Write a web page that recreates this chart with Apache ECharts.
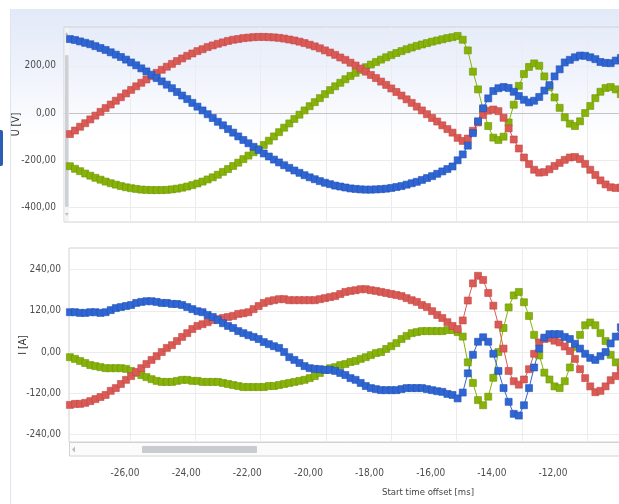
<!DOCTYPE html>
<html>
<head>
<meta charset="utf-8">
<script src="https://cdn.jsdelivr.net/npm/echarts@6/dist/echarts.min.js"></script>
<style>
  html, body { margin: 0; padding: 0; background: #ffffff; }
  #chart { width: 619px; height: 504px; }
</style>
</head>
<body>
<div id="chart"></div>
<script>
// Sample clock of the recorder: first sample time and sampling step, in ms
const T0 = -27.84;
const DT = 0.15625;

// Phase voltages [V], one value per sample
const uRed = [
  -89,-74,-58,-43,-27,-11,5,21,36,52,
  67,83,98,113,128,142,156,170,183,196,
  208,220,231,242,252,262,270,279,286,293,
  299,305,310,313,317,319,321,322,322,321,
  320,318,315,311,307,302,296,289,282,274,
  265,256,246,235,225,213,201,188,175,161,
  148,133,119,104,89,74,58,43,27,11,
  -5,-21,-36,-52,-68,-83,-105,-118,-108,-75,
  -40,-8,10,15,8,-20,-65,-112,-150,-188,
  -216,-240,-252,-250,-238,-224,-211,-198,-188,-186,
  -195,-215,-240,-262,-285,-302,-314,-317,-315
];
const uGreen = [
  -225,-236,-246,-256,-265,-274,-282,-290,-297,-303,
  -309,-314,-318,-321,-324,-325,-326,-326,-326,-325,
  -323,-320,-316,-311,-305,-298,-290,-281,-272,-261,
  -249,-237,-224,-210,-195,-180,-166,-152,-135,-117,
  -99,-81,-62,-44,-25,-7,11,29,46,63,
  80,97,113,128,143,157,170,182,194,205,
  216,226,236,245,254,262,270,277,284,290,
  296,302,307,312,317,321,326,310,265,175,
  100,15,-55,-104,-114,-100,-40,35,115,165,
  195,210,200,155,110,66,22,-18,-45,-55,
  -35,0,30,63,90,106,110,100,80
];
const uBlue = [
  313,309,303,297,291,283,275,267,257,247,
  237,226,214,202,189,176,162,148,134,120,
  105,89,74,59,43,27,11,-5,-21,-37,
  -52,-68,-83,-99,-114,-128,-143,-157,-171,-184,
  -197,-209,-221,-232,-243,-253,-263,-272,-280,-288,
  -295,-301,-307,-311,-315,-319,-321,-323,-324,-324,
  -323,-322,-320,-317,-313,-309,-303,-297,-291,-283,
  -275,-267,-257,-247,-237,-226,-200,-175,-138,-85,
  -35,20,62,93,105,110,106,90,72,56,
  45,52,68,95,118,155,185,214,225,236,
  243,242,236,228,216,212,211,222,233
];

// Phase currents [A], one value per sample
const iRed = [
  -154,-151,-151,-148,-143,-137,-131,-125,-113,-105,
  -93,-81,-70,-58,-47,-35,-23,-12,0,12,
  20,32,44,55,67,76,81,87,93,96,
  99,102,105,111,113,116,125,134,143,148,
  151,154,154,151,151,151,151,151,151,154,
  157,160,163,169,175,178,180,183,183,180,
  178,175,172,169,166,163,157,151,146,137,
  131,119,108,99,87,76,67,92,150,200,
  222,210,172,135,80,10,-55,-85,-95,-80,
  -50,-5,28,38,40,33,28,16,3,-20,
  -50,-76,-100,-117,-113,-100,-82,-70,-52
];
const iGreen = [
  -15,-20,-26,-32,-38,-41,-44,-47,-47,-47,
  -47,-49,-55,-61,-67,-73,-79,-84,-87,-87,
  -87,-84,-81,-81,-84,-84,-87,-87,-87,-87,
  -90,-93,-96,-99,-102,-102,-102,-102,-102,-99,
  -99,-96,-93,-90,-87,-84,-81,-76,-70,-61,
  -52,-47,-44,-38,-35,-29,-26,-20,-15,-9,
  -3,0,9,17,26,38,47,55,58,61,
  61,61,61,61,64,64,58,45,-30,-90,
  -140,-155,-130,-75,0,70,130,165,175,145,
  105,50,-10,-60,-80,-100,-105,-85,-45,15,
  50,78,86,78,55,32,-8,-30,-45
];
const iBlue = [
  116,116,114,114,116,116,114,116,122,128,
  131,134,137,143,146,148,148,146,143,143,
  140,140,137,131,125,119,116,108,102,93,
  84,76,70,61,55,49,44,38,29,23,
  17,12,0,-15,-23,-32,-41,-47,-49,-50,
  -52,-52,-55,-61,-67,-76,-81,-90,-99,-105,
  -108,-111,-111,-111,-111,-108,-105,-105,-105,-105,
  -108,-111,-114,-116,-122,-125,-135,-118,-62,-8,
  30,43,30,-5,-55,-105,-145,-180,-185,-155,
  -105,-45,10,42,52,52,52,44,38,24,
  10,-5,-17,-23,-12,0,25,45,72
];

// Tick values
const timeGridTicks = [-26, -24, -22, -20, -18, -16, -14, -12];
const timeLabelTicks = [-26, -24, -22, -20, -18, -16, -14, -12];
const uTicks = [-400, -200, 0, 200];
const iTicks = [-240, -120, 0, 120, 240];

const FONT = "'Liberation Sans Narrow', 'DejaVu Sans Condensed', 'Liberation Sans', sans-serif";
const LABEL_COLOR = '#4d4d4d';
const GRID_LINE = '#ececec';
const fmt = v => v.toFixed(2).replace('.', ',');

const COLORS = {
  red:   { fill: '#da5a56', edge: '#c24844' },
  green: { fill: '#86b20a', edge: '#6f9700' },
  blue:  { fill: '#2f66d4', edge: '#2253b4' }
};

function trace(name, values, col, axis) {
  return {
    type: 'line',
    name: name,
    xAxisIndex: axis,
    yAxisIndex: axis,
    data: values.map((v, k) => [T0 + k * DT, v]),
    symbol: 'rect',
    symbolSize: 7,
    showSymbol: true,
    showAllSymbol: true,
    clip: true,
    silent: true,
    lineStyle: { width: 1, color: col.fill },
    itemStyle: { color: col.fill, borderColor: col.edge, borderWidth: 0.6 },
    emphasis: { disabled: true }
  };
}

function timeAxis(gridIndex, min, max, zeroLine) {
  return {
    type: 'value',
    gridIndex: gridIndex,
    min: min,
    max: max,
    axisLine: zeroLine
      ? { show: true, onZero: true, lineStyle: { color: '#c4c4c4', width: 1 } }
      : { show: false, onZero: false },
    axisTick: { show: false, customValues: timeGridTicks },
    axisLabel: { show: false, customValues: timeGridTicks },
    splitLine: { show: true, lineStyle: { color: GRID_LINE, width: 1 } }
  };
}

function valueAxis(gridIndex, min, max, ticks, name, gap) {
  return {
    type: 'value',
    gridIndex: gridIndex,
    min: min,
    max: max,
    name: name,
    nameLocation: 'middle',
    nameGap: gap,
    nameRotate: 90,
    nameMoveOverlap: false,
    nameTextStyle: { color: '#333333', fontSize: 10.5, fontFamily: FONT },
    axisLine: { show: false },
    axisTick: { show: false, customValues: ticks },
    axisLabel: {
      customValues: ticks,
      formatter: fmt,
      color: LABEL_COLOR,
      fontSize: 10,
      fontFamily: FONT,
      margin: 8
    },
    splitLine: { show: true, lineStyle: { color: GRID_LINE, width: 1 } }
  };
}

const chart = echarts.init(document.getElementById('chart'), null, { renderer: 'canvas' });

chart.setOption({
  animation: false,
  backgroundColor: '#ffffff',
  grid: [
    { left: 64, top: 27, right: -10, height: 195, show: true, borderColor: '#d2d2d2', borderWidth: 1, backgroundColor: 'transparent', outerBoundsMode: 'none' },
    { left: 69, top: 248, right: -10, height: 194, show: true, borderColor: '#d2d2d2', borderWidth: 1, backgroundColor: 'transparent', outerBoundsMode: 'none' },
    { left: 67, top: 456, right: 0, height: 1, show: false, outerBoundsMode: 'none' }
  ],
  xAxis: [
    timeAxis(0, -28.021, -10.716, true),
    timeAxis(1, -27.868, -10.716, false),
    {
      type: 'value',
      gridIndex: 2,
      min: -27.897,
      max: -9.841,
      position: 'bottom',
      axisLine: { show: false },
      axisTick: { show: false, customValues: timeLabelTicks },
      axisLabel: {
        customValues: timeLabelTicks,
        formatter: fmt,
        color: LABEL_COLOR,
        fontSize: 10,
        fontFamily: FONT,
        margin: 11
      },
      splitLine: { show: false }
    }
  ],
  yAxis: [
    valueAxis(0, -461, 364, uTicks, 'U [V]', 42),
    valueAxis(1, -262, 303, iTicks, 'I [A]', 40),
    { type: 'value', gridIndex: 2, min: 0, max: 1, show: false }
  ],
  series: [
    trace('U L2', uGreen, COLORS.green, 0),
    trace('U L1', uRed, COLORS.red, 0),
    trace('U L3', uBlue, COLORS.blue, 0),
    trace('I L2', iGreen, COLORS.green, 1),
    trace('I L1', iRed, COLORS.red, 1),
    trace('I L3', iBlue, COLORS.blue, 1),
    { type: 'line', xAxisIndex: 2, yAxisIndex: 2, data: [], silent: true }
  ],
  graphic: {
    elements: [
      // window panel with its pale blue header gradient
      {
        type: 'rect', z: -10, silent: true,
        shape: { x: 10, y: 9, width: 620, height: 500 },
        style: {
          fill: new echarts.graphic.LinearGradient(0, 0, 0, 1, [
            { offset: 0, color: '#e2e9f8' },
            { offset: 0.12, color: '#eef2fb' },
            { offset: 0.26, color: '#ffffff' },
            { offset: 1, color: '#ffffff' }
          ])
        }
      },
      {
        type: 'line', z: -9, silent: true,
        shape: { x1: 10.5, y1: 9, x2: 10.5, y2: 504 },
        style: { stroke: '#dfe4ee', lineWidth: 1 }
      },
      // side tab of the host window
      {
        type: 'rect', z: 5, silent: true,
        shape: { x: 0, y: 130, width: 3, height: 36, r: [0, 2, 2, 0] },
        style: { fill: '#2a5db3' }
      },
      // vertical scroll bar of the voltage plot
      {
        type: 'rect', z: 1, silent: true,
        shape: { x: 64.5, y: 28, width: 4.5, height: 193 },
        style: { fill: '#f3f4f6' }
      },
      {
        type: 'rect', z: 1, silent: true,
        shape: { x: 65, y: 55, width: 3.5, height: 152, r: 1 },
        style: { fill: '#cdd0d5' }
      },
      {
        type: 'polygon', z: 1, silent: true,
        shape: { points: [[65, 35], [68.5, 35], [66.75, 32]] },
        style: { fill: '#b8bcc2' }
      },
      {
        type: 'polygon', z: 1, silent: true,
        shape: { points: [[65, 213], [68.5, 213], [66.75, 216]] },
        style: { fill: '#b8bcc2' }
      },
      // horizontal scroll bar of the current plot
      {
        type: 'rect', z: 3, silent: true,
        shape: { x: 69.5, y: 442.5, width: 560, height: 13.5 },
        style: { fill: '#fbfbfc', stroke: '#d2d2d2', lineWidth: 1 }
      },
      {
        type: 'rect', z: 4, silent: true,
        shape: { x: 142, y: 446, width: 115, height: 7, r: 1 },
        style: { fill: '#c8cbd0' }
      },
      {
        type: 'polygon', z: 4, silent: true,
        shape: { points: [[75, 446.5], [75, 452.5], [72, 449.5]] },
        style: { fill: '#b8bcc2' }
      },
      // time axis title
      {
        type: 'text', z: 5, silent: true,
        x: 428, y: 493,
        style: {
          text: 'Start time offset [ms]',
          fill: '#444444',
          align: 'center',
          verticalAlign: 'middle',
          font: "9.5px 'Liberation Sans Narrow', 'DejaVu Sans Condensed', sans-serif"
        }
      }
    ]
  }
});
</script>
</body>
</html>
